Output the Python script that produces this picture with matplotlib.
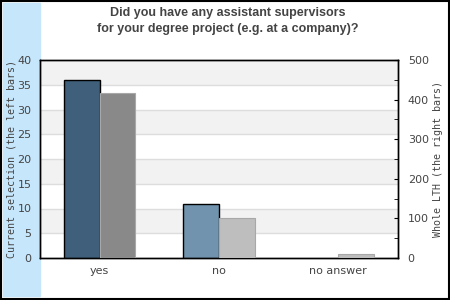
import numpy as np
import matplotlib.pyplot as plt
from matplotlib.patches import Rectangle

# data
categories = ['yes', 'no', 'no answer']
current_selection = [36, 11, 0]
whole_lth = [416, 100, 9]
left_colors = ['#3f5f7a', '#7193ae', '#7193ae']
right_colors = ['#898989', '#bebebe', '#bebebe']

fig = plt.figure(figsize=(4.5, 3), dpi=100)
fig.patch.set_facecolor('white')

# light blue strip on the left and the black frame
fig.patches.append(Rectangle((3 / 450, 4 / 300), 37 / 450, 293 / 300,
                             transform=fig.transFigure, color='#c6e6fb', zorder=-1))
fig.patches.append(Rectangle((0.5 / 450, 1.5 / 300), 448.5 / 450, 298 / 300,
                             transform=fig.transFigure, fill=False,
                             edgecolor='black', linewidth=1.5, zorder=5))

ax = fig.add_axes([40 / 450, 42 / 300, 358 / 450, 198 / 300])
ax2 = ax.twinx()

x = np.arange(len(categories))
w = 0.3

# background bands + grid
for i in range(8):
    lo = i * 5
    ax.axhspan(lo, lo + 5, color='#f2f2f2' if i % 2 else 'white', zorder=0, lw=0)
    if i > 0:
        ax.axhline(lo, color='#dddddd', lw=1, zorder=0.5)

ax.bar(x - w / 2, current_selection, w, color=left_colors, edgecolor='black',
       linewidth=[1 if v > 0 else 0 for v in current_selection], zorder=3)
ax2.bar(x + w / 2, whole_lth, w, color=right_colors, edgecolor='#a8a8a8',
        linewidth=0.8, zorder=3)

ax.set_xlim(-0.5, 2.5)
ax.set_ylim(0, 40)
ax2.set_ylim(0, 500)
ax.set_yticks(range(0, 41, 5))
ax2.set_yticks(range(0, 501, 100))
ax2.set_yticks(range(0, 501, 50), minor=True)
ax.set_xticks(x)
ax.set_xticklabels(categories)

ax.tick_params(axis='y', length=0, pad=6, labelsize=8, labelcolor='#444444')
ax.tick_params(axis='x', length=0, pad=6, labelsize=8, labelcolor='#444444')
ax2.tick_params(axis='y', which='major', direction='in', length=3,
                pad=7, labelsize=8, labelcolor='#444444')
ax2.tick_params(axis='y', which='minor', direction='in', length=3)

for a in (ax, ax2):
    for s in a.spines.values():
        s.set_color('black')
        s.set_linewidth(1)

ax.set_ylabel('Current selection (the left bars)', family='DejaVu Sans Mono',
              fontsize=7.2, color='#444444', labelpad=1)
ax2.set_ylabel('Whole LTH (the right bars)', family='DejaVu Sans Mono',
               fontsize=7.2, color='#444444', labelpad=3)

fig.text(0.5 + 3 / 450, 1 - 21 / 300,
         'Did you have any assistant supervisors\nfor your degree project (e.g. at a company)?',
         ha='center', va='center', fontsize=9, fontweight='bold',
         family='Liberation Sans', color='#444444', linespacing=1.35)

fig.savefig('out.png', dpi=100)
